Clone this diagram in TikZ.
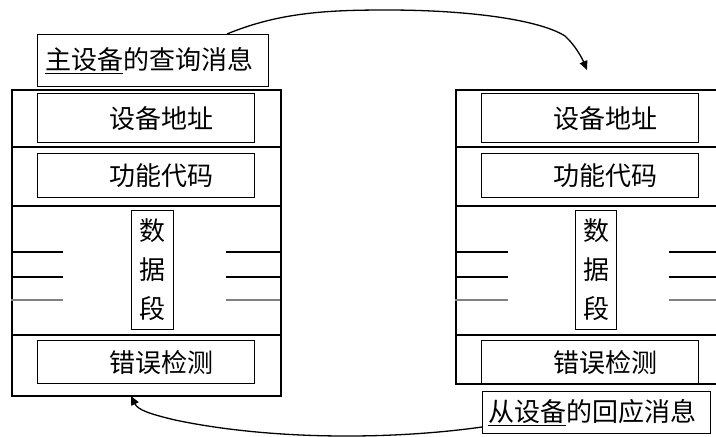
\documentclass[tikz,border=0pt]{standalone}
\usepackage{fontspec}
\newfontfamily\cjk{Noto Sans CJK SC}
\usetikzlibrary{arrows.meta}
\begin{document}
\begin{tikzpicture}[x=1pt,y=-1pt,
  frame/.style={draw,line width=1.5pt,inner sep=0pt,anchor=north west,minimum width=269pt,minimum height=306pt},
  divider/.style={line width=1.5pt},
  fieldbox/.style={draw,line width=1.3pt,inner sep=0pt,anchor=north west,minimum width=217pt,
    font=\cjk\fontsize{26}{39}\selectfont},
  databox/.style={draw,line width=1.3pt,inner sep=0pt,anchor=north west,minimum height=119pt,
    align=center,font=\cjk\fontsize{26}{39}\selectfont},
  msgbox/.style={draw,line width=1.3pt,inner sep=0pt,anchor=north west,
    font=\cjk\fontsize{26}{39}\selectfont},
  tick/.style={line width=1.5pt},
  ticklight/.style={line width=1.3pt,black!50},
  flow/.style={line width=1.3pt,-{Triangle[length=9pt,width=8pt]}}]
\clip (0,0) rectangle (716,437);

% ---------- left (master) frame ----------
\node[frame] (LF) at (11,89) {};
\draw[divider] (11,147) -- (280,147);
\draw[divider] (11,206) -- (280,206);
\draw[divider] (11,335) -- (280,335);
\node[fieldbox,minimum height=49pt] (Laddr) at (37,93) {\hspace*{30pt}设备地址};
\node[fieldbox,minimum height=44pt] (Lfunc) at (37,153) {\hspace*{30pt}功能代码};
\node[databox,minimum width=42pt] (Ldata) at (131,210) {数\\据\\段};
\node[fieldbox,minimum height=43pt] (Lerr) at (37,340) {\hspace*{30pt}错误检测};
\draw[tick] (11,252) -- (63,252);
\draw[tick] (11,277) -- (63,277);
\draw[ticklight] (11,300) -- (63,300);
\draw[tick] (226,252) -- (280,252);
\draw[tick] (226,277) -- (280,277);
\draw[ticklight] (226,300) -- (280,300);
\node[msgbox,minimum width=231pt,minimum height=52pt] (query) at (37,34)
  {\hspace*{-8pt}\underline{主设备}的查询消息};

% ---------- right (slave) frame ----------
\node[frame,minimum width=280pt,minimum height=294pt] (RF) at (455,89) {};
\draw[divider] (455,147) -- (735,147);
\draw[divider] (455,206) -- (735,206);
\draw[divider] (455,335) -- (735,335);
\node[fieldbox,minimum height=49pt] (Raddr) at (481,93) {\hspace*{30pt}设备地址};
\node[fieldbox,minimum height=44pt] (Rfunc) at (481,153) {\hspace*{30pt}功能代码};
\node[databox,minimum width=41pt] (Rdata) at (575,210) {数\\据\\段};
\node[fieldbox,minimum height=43pt] (Rerr) at (481,340) {\hspace*{30pt}错误检测};
\draw[tick] (455,252) -- (508,252);
\draw[tick] (455,277) -- (508,277);
\draw[ticklight] (455,300) -- (508,300);
\draw[tick] (669,252) -- (735,252);
\draw[tick] (669,277) -- (735,277);
\draw[ticklight] (669,300) -- (735,300);
\node[msgbox,minimum width=228pt,minimum height=42pt] (reply) at (482,391)
  {\hspace*{-9pt}\underline{从设备}的回应消息};

% ---------- flows ----------
\coordinate (qout) at (227,34);
\coordinate (qin) at (587,70);
\coordinate (rout) at (482,427);
\coordinate (rin) at (131,396);
\draw[flow] (qout) .. controls (280,12) and (330,10) .. (387,10)
  .. controls (470,10) and (540,20) .. (565,36)
  .. controls (575,45) and (582,58) .. (qin);
\draw[flow] (rout) .. controls (390,440) and (270,440) .. (175,420)
  .. controls (150,414) and (138,410) .. (rin);
\end{tikzpicture}
\end{document}
